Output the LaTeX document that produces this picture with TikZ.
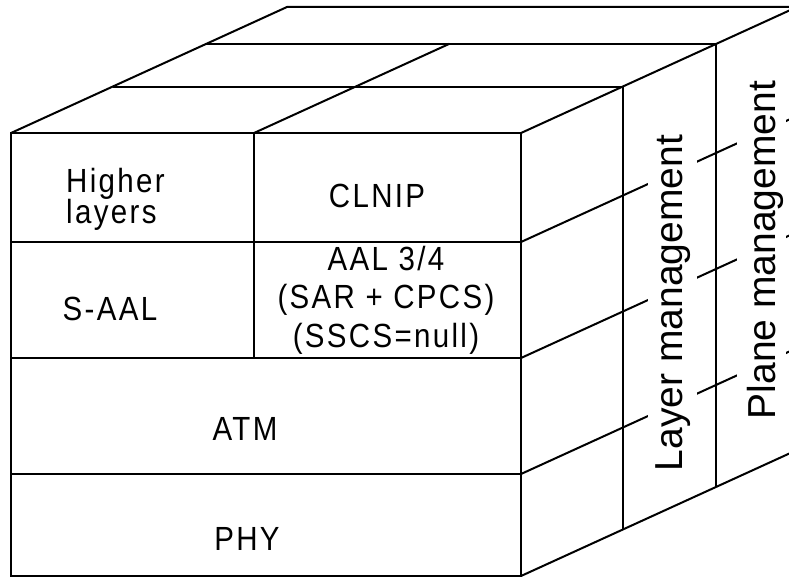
\documentclass[tikz,border=0pt]{standalone}
\usepackage{fontspec}
\setmainfont{Liberation Sans}
\newfontfamily\stackfont[FakeStretch=0.88,LetterSpace=7]{Liberation Sans}
\usetikzlibrary{calc}

\begin{document}
\begin{tikzpicture}[
  x=1pt,y=-1pt,
  edge/.style={line width=2pt},
  layer/.style={inner sep=0pt,font=\stackfont\fontsize{33.5}{38.5}\selectfont},
  mgmt/.style={rotate=90,anchor=base,fill=white,inner sep=7pt,
    font=\fontsize{39}{44}\selectfont}
]
  \useasboundingbox (0,0) rectangle (789,578);
  \clip (0,0) rectangle (789,578);

  % front face and depth of the block
  \coordinate (ftl) at (11,133);
  \coordinate (ftr) at (521,133);
  \coordinate (fbl) at (11,576);
  \coordinate (fbr) at (521,576);
  \coordinate (dep) at (276,-126);
  \coordinate (mid) at (254,133);
  \coordinate (r1) at (521,242);
  \coordinate (r2) at (521,358);
  \coordinate (r3) at (521,474);

  % front face
  \draw[edge] (ftl) rectangle (fbr);
  \draw[edge] (11,242) -- (r1);
  \draw[edge] (11,358) -- (r2);
  \draw[edge] (11,474) -- (r3);
  \draw[edge] (mid) -- (254,358);

  % top face
  \draw[edge] (ftl) -- ++(dep) -- ($(ftr)+(dep)$) -- (ftr);
  \draw[edge] ($(ftl)+0.368*(dep)$) -- ($(ftr)+0.368*(dep)$) -- ($(fbr)+0.368*(dep)$);
  \draw[edge] ($(ftl)+0.708*(dep)$) -- ($(ftr)+0.708*(dep)$) -- ($(fbr)+0.708*(dep)$);
  \draw[edge] (mid) -- ($(mid)+0.708*(dep)$);

  % right face
  \foreach \p in {r1,r2,r3,fbr}
    \draw[edge] (\p) -- ++(dep);

  % layer names (base = last line)
  \node[layer,anchor=base west,align=left] (higher) at (66,223) {Higher\\[-8pt]layers};
  \node[layer,anchor=base] (clnip) at (377,207) {CLNIP};
  \node[layer,anchor=base] (saal) at (110,320) {S-AAL};
  \node[layer,anchor=base,align=center] (aal) at (386,347)
    {AAL 3/4\\(SAR + CPCS)\\(SSCS=null)};
  \node[layer,anchor=base] (atm) at (245,440) {ATM};
  \node[layer,anchor=base] (phy) at (247,550) {PHY};

  % management planes
  \node[mgmt] (layermgmt) at (682,303) {Layer management};
  \node[mgmt,inner ysep=3pt,text height=35pt] (planemgmt) at (775,250) {Plane management};
\end{tikzpicture}
\end{document}
